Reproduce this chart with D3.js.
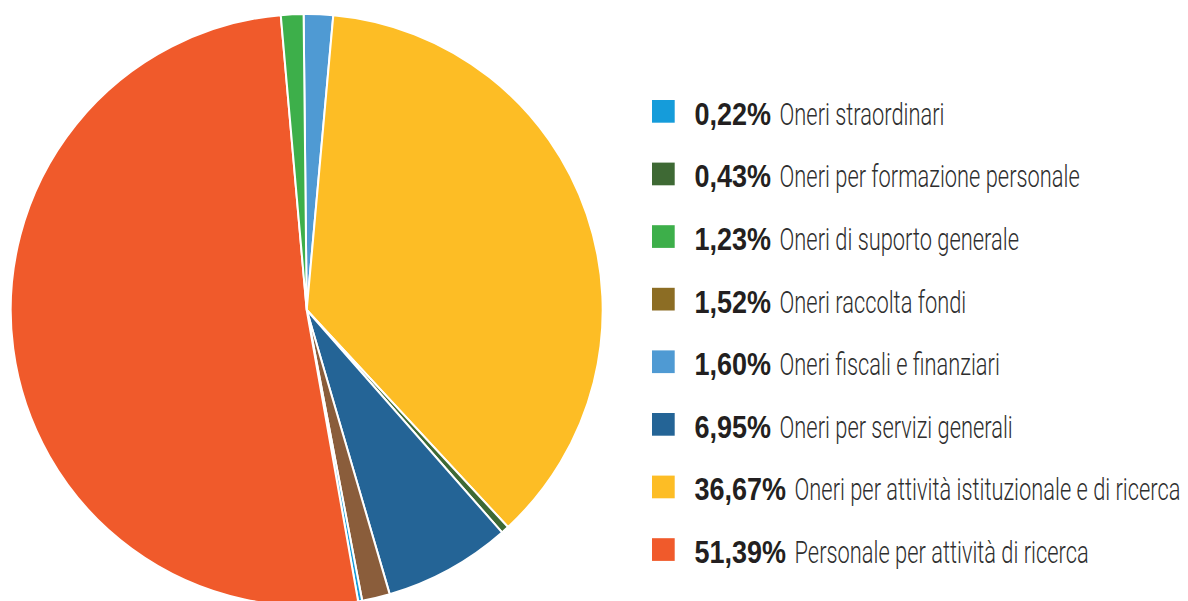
<!DOCTYPE html>
<html>
<head>
<meta charset="utf-8">
<script src="https://cdn.jsdelivr.net/npm/d3@7/dist/d3.min.js"></script>
<style>
  html, body { margin: 0; padding: 0; background: #ffffff; }
  svg { display: block; }
</style>
</head>
<body>
<svg id="chart" width="1188" height="601"></svg>
<script>
// Cost breakdown, listed in legend order (smallest share first)
const categories = [
  "Oneri straordinari",
  "Oneri per formazione personale",
  "Oneri di suporto generale",
  "Oneri raccolta fondi",
  "Oneri fiscali e finanziari",
  "Oneri per servizi generali",
  "Oneri per attività istituzionale e di ricerca",
  "Personale per attività di ricerca"
];
const values = [0.22, 0.43, 1.23, 1.52, 1.60, 6.95, 36.67, 51.39];
const valueLabels = ["0,22%", "0,43%", "1,23%", "1,52%", "1,60%", "6,95%", "36,67%", "51,39%"];
const sliceColors = ["#159cda", "#3e6934", "#3daf4a", "#8a5d3b", "#4f9ad3", "#246496", "#fdbd25", "#f05a2b"];
const swatchColors = ["#159cda", "#3e6934", "#3daf4a", "#8c6d24", "#4f9ad3", "#246496", "#fdbd25", "#f05a2b"];
// Clockwise sequence of the slices, starting at twelve o'clock (indices into the arrays above)
const sliceOrder = [4, 6, 1, 5, 3, 0, 7, 2];

const svg = d3.select("#chart");

// ---- Pie ----
const cx = 306.7, cy = 310, radius = 296;
const startAngle = -0.6 * Math.PI / 180;

const pie = d3.pie()
  .sort(null)
  .value(i => values[i])
  .startAngle(startAngle)
  .endAngle(startAngle + 2 * Math.PI);

const arc = d3.arc().innerRadius(0).outerRadius(radius);

svg.append("g")
  .attr("transform", `translate(${cx},${cy})`)
  .selectAll("path")
  .data(pie(sliceOrder))
  .join("path")
  .attr("d", arc)
  .attr("fill", d => sliceColors[d.data])
  .attr("stroke", "#ffffff")
  .attr("stroke-width", 2)
  .attr("stroke-linejoin", "round");

// ---- Legend ----
const legendX = 652, legendTop = 100, rowStep = 62.6, swatch = 22.7;
const textX = 694.5, baseline = 24.8, fontSize = 31;
const boldSqueeze = 0.87, regularSqueeze = 0.705, gap = 8.6;
const rows = d3.range(categories.length);
const y = d3.scalePoint().domain(rows).range([legendTop, legendTop + rowStep * (rows.length - 1)]);

const legend = svg.append("g").attr("class", "legend");

rows.forEach(i => {
  const row = legend.append("g").attr("transform", `translate(0,${y(i)})`);

  row.append("rect")
    .attr("x", legendX)
    .attr("y", 0)
    .attr("width", swatch)
    .attr("height", swatch)
    .attr("fill", swatchColors[i]);

  // percentage, bold and condensed
  const bold = row.append("g").attr("transform", `translate(${textX},${baseline}) scale(${boldSqueeze},1)`);
  const b = bold.append("text")
    .attr("x", 0).attr("y", 0)
    .attr("font-family", "'Liberation Sans', Arial, sans-serif")
    .attr("font-weight", "bold")
    .attr("font-size", fontSize)
    .attr("fill", "#231f20")
    .text(valueLabels[i]);
  const bw = b.node().getComputedTextLength() * boldSqueeze;

  // category name, light and condensed
  const reg = row.append("g").attr("transform", `translate(${textX + bw + gap},${baseline}) scale(${regularSqueeze},1)`);
  reg.append("text")
    .attr("x", 0).attr("y", 0)
    .attr("font-family", "Roboto, 'Liberation Sans', sans-serif")
    .attr("font-weight", 300)
    .attr("font-size", fontSize)
    .attr("fill", "#2e2e2e")
    .text(categories[i]);
});
</script>
</body>
</html>
